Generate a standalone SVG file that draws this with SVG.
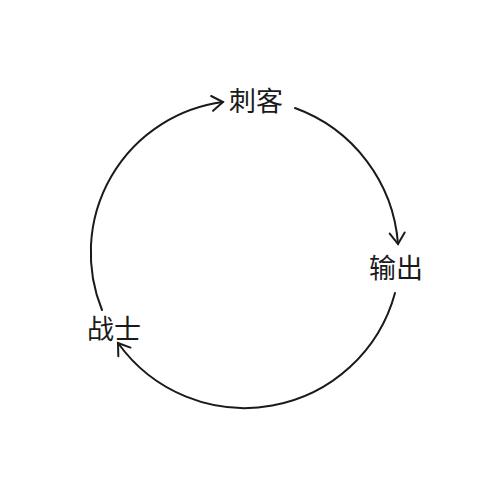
<svg xmlns="http://www.w3.org/2000/svg" width="500" height="500" viewBox="0 0 500 500">
  <style>
    .lbl { font-family: "Noto Sans CJK SC", "Noto Sans", sans-serif; font-size: 27px; fill: #1a1a1a; text-anchor: middle; }
    .arc { fill: none; stroke: #1a1a1a; stroke-width: 2; stroke-linecap: round; }
  </style>
  <defs>
    <marker id="arrow" markerUnits="userSpaceOnUse" markerWidth="20" markerHeight="20" viewBox="-14 -10 16 20" refX="0" refY="0" orient="auto">
      <path d="M-11,-7.5 L0,0 L-11,7.5" fill="none" stroke="#1a1a1a" stroke-width="2" stroke-linecap="round" stroke-linejoin="miter"/>
    </marker>
  </defs>
  <rect width="500" height="500" fill="#ffffff"/>
  <g id="connectors">
    <path id="c-zhanshi-cike" class="arc" d="M102,310 A152,152 0 0 1 223,102" marker-end="url(#arrow)"/>
    <path id="c-cike-shuchu" class="arc" d="M295,108 A157,157 0 0 1 398,244" marker-end="url(#arrow)"/>
    <path id="c-shuchu-zhanshi" class="arc" d="M395,293 A155.8,155.8 0 0 1 118,343" marker-end="url(#arrow)"/>
  </g>
  <g id="node-cike">
    <text class="lbl" x="256" y="111">刺客</text>
  </g>
  <g id="node-shuchu">
    <text class="lbl" x="396" y="278">输出</text>
  </g>
  <g id="node-zhanshi">
    <text class="lbl" x="114" y="339">战士</text>
  </g>
</svg>
